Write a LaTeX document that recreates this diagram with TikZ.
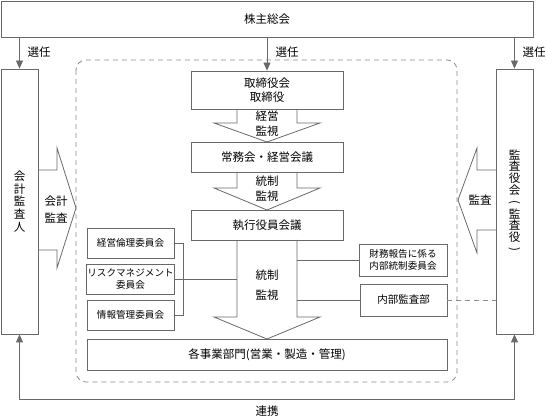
\documentclass[tikz,border=0pt]{standalone}
\usepackage{fontspec}
\setmainfont{Noto Sans CJK JP}
\usepackage{graphicx}
\usetikzlibrary{arrows.meta, positioning}

\definecolor{linegray}{RGB}{105,105,105}
\definecolor{dashgray}{RGB}{140,140,140}

\tikzset{
  box/.style={draw=linegray, line width=0.8pt, fill=white, align=center, inner sep=1pt,
    font=\fontsize{11.5}{14}\selectfont},
  smallbox/.style={box, font=\fontsize{9.6}{12.5}\selectfont},
  conn/.style={draw=linegray, line width=0.8pt},
  bigarrow/.style={draw=linegray, line width=0.8pt, line join=miter},
  lbl/.style={font=\fontsize{11.5}{14}\selectfont, align=center, inner sep=0pt},
  tip/.style={-{Triangle[length=8pt,width=7pt]}}
}

\newcommand{\vparen}[1]{\rotatebox[origin=c]{-90}{#1}}

\begin{document}
\begin{tikzpicture}[x=1pt,y=-1pt]
\useasboundingbox (0,0) rectangle (546,419);

% outer frame of the executive side
\draw[dashgray, line width=0.8pt, dash pattern=on 5pt off 4pt, rounded corners=10pt]
  (76,60) rectangle (457,382);

\node[box, minimum width=532, minimum height=36] (soukai) at (267,19) {株主総会};

\node[box, minimum width=37, minimum height=265, font=\fontsize{11.5}{12.6}\selectfont]
  (kaikei) at (19.5,201.5) {会\\計\\監\\査\\人};
\node[box, minimum width=37, minimum height=265, font=\fontsize{11.5}{11.8}\selectfont]
  (kansayaku) at (514.5,201.5) {監\\査\\役\\会\\\vparen{(}\\監\\査\\役\\\vparen{)}};

\node[box, minimum width=152, minimum height=38] (torishimari) at (267,90) {取締役会\\取締役};
\node[box, minimum width=152, minimum height=30] (joumu) at (267,157) {常務会・経営会議};
\node[box, minimum width=152, minimum height=30] (shikkou) at (267,225) {執行役員会議};
\node[box, minimum width=360, minimum height=31] (jigyou) at (267,354.5) {各事業部門(営業・製造・管理)};

\node[smallbox, minimum width=87, minimum height=30] (rinri) at (130.5,243) {経営倫理委員会};
\node[smallbox, minimum width=87, minimum height=30] (risk) at (130.5,279) {リスクマネジメント\\[-1pt]委員会};
\node[smallbox, minimum width=87, minimum height=30] (jouhou) at (130.5,315) {情報管理委員会};

\node[smallbox, minimum width=88, minimum height=32] (zaimu) at (403,260) {財務報告に係る\\[-1pt]内部統制委員会};
\node[box, minimum width=87, minimum height=32, font=\fontsize{10.5}{13}\selectfont] (naibu) at (403.5,300) {内部監査部};

% election
\draw[conn, tip] (soukai.south -| kaikei) -- (kaikei.north);
\draw[conn, tip] (soukai.south -| torishimari) -- (torishimari.north);
\draw[conn, tip] (soukai.south -| kansayaku) -- (kansayaku.north);
\node[lbl] (sen1) at (39,52) {選任};
\node[lbl] (sen2) at (287,52) {選任};
\node[lbl] (sen3) at (534,52) {選任};

% broad arrows
\draw[bigarrow] (237,109) -- (237,123) -- (214,123) -- (267,142) -- (320,123) -- (297,123) -- (297,109);
\node[lbl] (keiei) at (267,124) {経営\\[1pt]監視};
\draw[bigarrow] (237,172) -- (237,188) -- (214,188) -- (267,210) -- (320,188) -- (297,188) -- (297,172);
\node[lbl] (tousei1) at (267,189) {統制\\[1pt]監視};
\draw[bigarrow] (237,240) -- (237,317) -- (214,317) -- (267,339) -- (320,317) -- (297,317) -- (297,240);
\node[lbl] (tousei2) at (267,285) {統制\\[6pt]監視};

\draw[bigarrow] (38,170) -- (57,170) -- (57,148) -- (76,208) -- (57,268) -- (57,250) -- (38,250);
\node[lbl] (kaikeikansa) at (56,210) {会計\\[3pt]監査};
\draw[bigarrow] (496,170) -- (477,170) -- (477,148) -- (458,200) -- (477,253) -- (477,230) -- (496,230);
\node[lbl] (kansa) at (480,200) {監査};

% committees
\draw[conn] (rinri.east) -- (183,243) |- (jouhou.east);
\draw[conn] (risk.east) -- (237,279);
\draw[conn] (297,260) -- (zaimu.west);
\draw[conn] (297,300) -- (naibu.west);
\draw[conn, dashgray, dash pattern=on 5pt off 4pt] (naibu.east) -- (naibu.east -| kansayaku.west);

% cooperation
\coordinate (renkei) at (267,399);
\draw[conn, tip] (renkei) -| (kaikei.south);
\draw[conn, tip] (renkei) -| (kansayaku.south);
\node[lbl] (renkeilbl) at (267,411) {連携};
\end{tikzpicture}
\end{document}
